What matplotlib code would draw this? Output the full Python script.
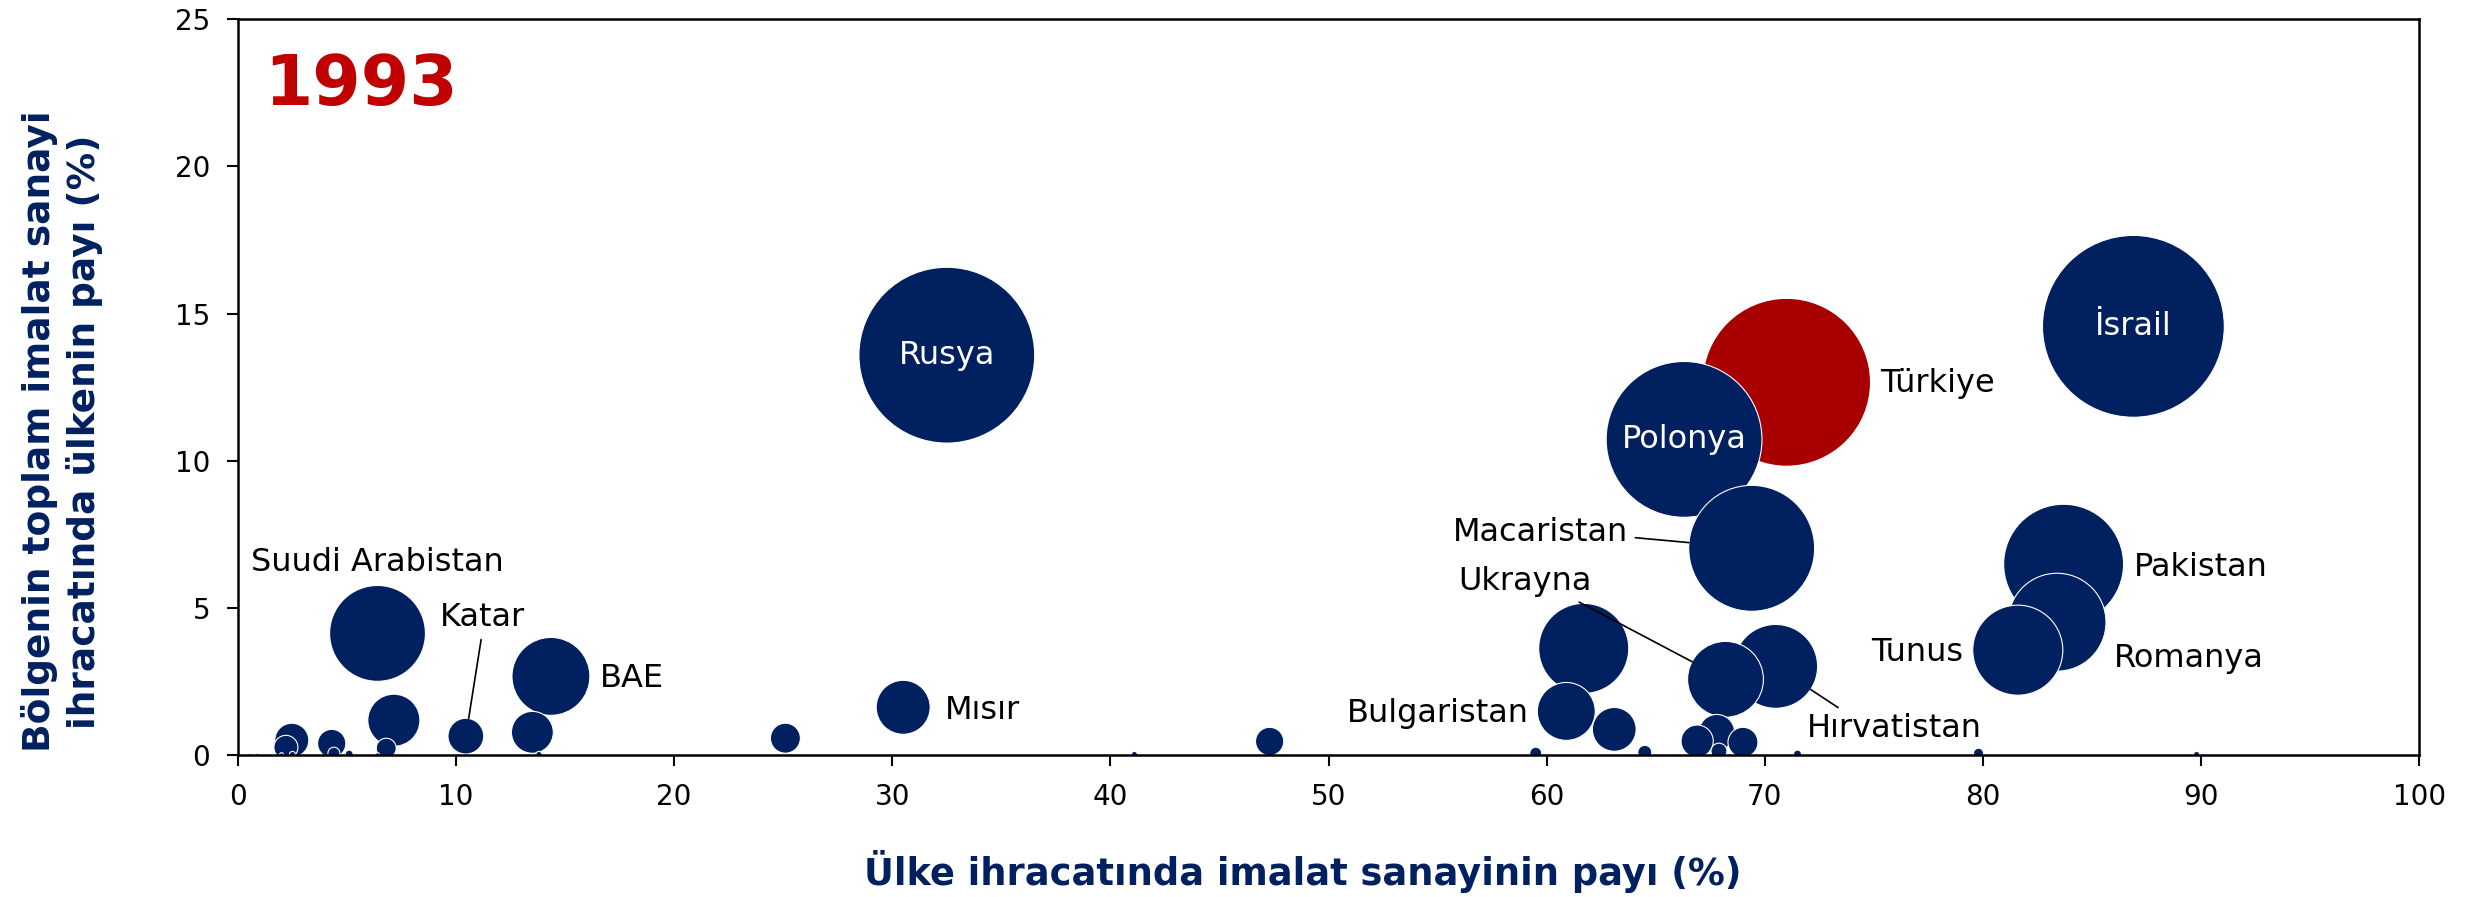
import numpy as np
import matplotlib
matplotlib.use("Agg")
import matplotlib.pyplot as plt

# Ülke verileri (1993): x = ülke ihracatında imalat payı, y = bölge payı, buyukluk = balon alanı
ulke = ["Rusya", "İsrail", "Türkiye", "Polonya", "Macaristan", "Pakistan",
        "Romanya", "Tunus", "Suudi Arabistan", "BAE", "", "Hırvatistan",
        "Ukrayna", "Bulgaristan", "Mısır", "", "", "", "Katar", "", "", "",
        "", "", "", "", "", "", "", "", "", "", "", "", "", "", "", "", "",
        "", "", "", ""]
x_pay = [32.5, 86.9, 71.0, 66.3, 69.4, 83.7, 83.4, 81.6, 6.4, 14.35, 61.7, 70.5,
         68.2, 60.9, 30.5, 7.15, 63.1, 13.5, 10.45, 67.8, 2.47, 66.9, 25.1, 69.0,
         47.3, 4.3, 2.2, 6.8, 67.9, 64.5, 59.5, 4.4, 79.8, 5.1, 71.5, 41.1, 89.8,
         13.8, 2.5, 2.0, 6.4, 0.55, 0.87]
y_pay = [13.59, 14.57, 12.67, 10.73, 7.03, 6.49, 4.52, 3.57, 4.14, 2.68, 3.63, 3.02,
         2.58, 1.49, 1.63, 1.19, 0.88, 0.78, 0.65, 0.78, 0.51, 0.48, 0.58, 0.44,
         0.47, 0.40, 0.27, 0.24, 0.14, 0.10, 0.07, 0.07, 0.07, 0.04, 0.04, 0.03,
         0.03, 0.03, 0.03, 0.02, 0.02, 0.01, 0.01]
buyukluk = [77.4, 82.8, 70.6, 60.8, 39.7, 36.0, 24.0, 20.3, 23.0, 15.2, 20.3, 17.6,
            14.4, 8.4, 7.3, 6.8, 4.8, 4.4, 3.2, 3.2, 2.9, 2.6, 2.25, 2.25,
            2.0, 2.0, 1.44, 1.0, 0.64, 0.49, 0.36, 0.36, 0.25, 0.16, 0.16, 0.09,
            0.09, 0.09, 0.09, 0.04, 0.04, 0.02, 0.02]

x_ticks = [0, 10, 20, 30, 40, 50, 60, 70, 80, 90, 100]
y_ticks = [0, 5, 10, 15, 20, 25]

lacivert = "#002060"
kirmizi = "#A80000"

plt.rcParams['font.family'] = ['DejaVu Sans']

fig = plt.figure(figsize=(24.68, 8.97), dpi=100)
ax = fig.add_axes([0.0964, 0.158, 0.8838, 0.8205])

# büyükten küçüğe çiz (küçükler üstte kalsın)
sira = np.argsort(buyukluk)[::-1]
x = np.array(x_pay)[sira]
y = np.array(y_pay)[sira]
b = np.array(buyukluk)[sira]
renk = [kirmizi if ulke[i] == "Türkiye" else lacivert for i in sira]
olcek = 207.0
ax.scatter(x, y, s=b * olcek, c=renk, edgecolors="white", linewidths=0.8, zorder=1)


def yaricap_pt(ad):
    i = ulke.index(ad)
    return np.sqrt(buyukluk[i] * olcek) / 2


def veri(ad):
    i = ulke.index(ad)
    return x_pay[i], y_pay[i]


# balon içindeki beyaz etiketler
for ad in ["Rusya", "Polonya", "İsrail"]:
    ax.text(*veri(ad), ad, color="white", fontsize=23, ha="center", va="center")

# dış etiketler
dis = {
    "Suudi Arabistan": ((6.4, 6.56), "center"),
    "BAE": ((16.6, 2.6), "left"),
    "Mısır": ((32.4, 1.53), "left"),
    "Bulgaristan": ((59.2, 1.43), "right"),
    "Türkiye": ((75.3, 12.63), "left"),
    "Pakistan": ((86.9, 6.39), "left"),
    "Romanya": ((86.0, 3.29), "left"),
    "Tunus": ((79.1, 3.5), "right"),
}
for ad, (poz, ha) in dis.items():
    ax.text(poz[0], poz[1], ad, fontsize=23, ha=ha, va="center", color="black")

# çizgili etiketler
cizgili = {
    "Katar": ((11.2, 4.69), "center", (0.5, 0.0)),
    "Macaristan": ((63.75, 7.57), "right", (1.0, 0.35)),
    "Ukrayna": ((59.0, 5.89), "center", (0.84, 0.0)),
    "Hırvatistan": ((71.95, 0.92), "left", (0.22, 1.0)),
}
for ad, (poz, ha, rp) in cizgili.items():
    ax.annotate(ad, xy=veri(ad), xytext=poz, fontsize=23, ha=ha, va="center",
                arrowprops=dict(arrowstyle="-", color="black", lw=1.2, relpos=rp,
                                shrinkA=3, shrinkB=yaricap_pt(ad)))

ax.text(0.012, 0.955, "1993", transform=ax.transAxes, fontsize=50,
        fontweight="bold", color="#C00000", ha="left", va="top")

ax.set_xlim(0, 100)
ax.set_ylim(0, 25)
ax.set_xticks(x_ticks)
ax.set_yticks(y_ticks)
ax.tick_params(axis="both", labelsize=20, length=8, width=1.5, direction="out", pad=12)
for sp in ax.spines.values():
    sp.set_linewidth(1.8)

ax.set_xlabel("Ülke ihracatında imalat sanayinin payı (%)", fontsize=26.5,
              fontweight="bold", color=lacivert, va="center")
ax.xaxis.set_label_coords(0.488, -0.158)
ax.set_ylabel("Bölgenin toplam imalat sanayi\nihracatında ülkenin payı (%)", fontsize=27,
              fontweight="bold", color=lacivert, linespacing=1.25, va="center")
ax.yaxis.set_label_coords(-0.0807, 0.44)

plt.savefig("out.png", dpi=100)
